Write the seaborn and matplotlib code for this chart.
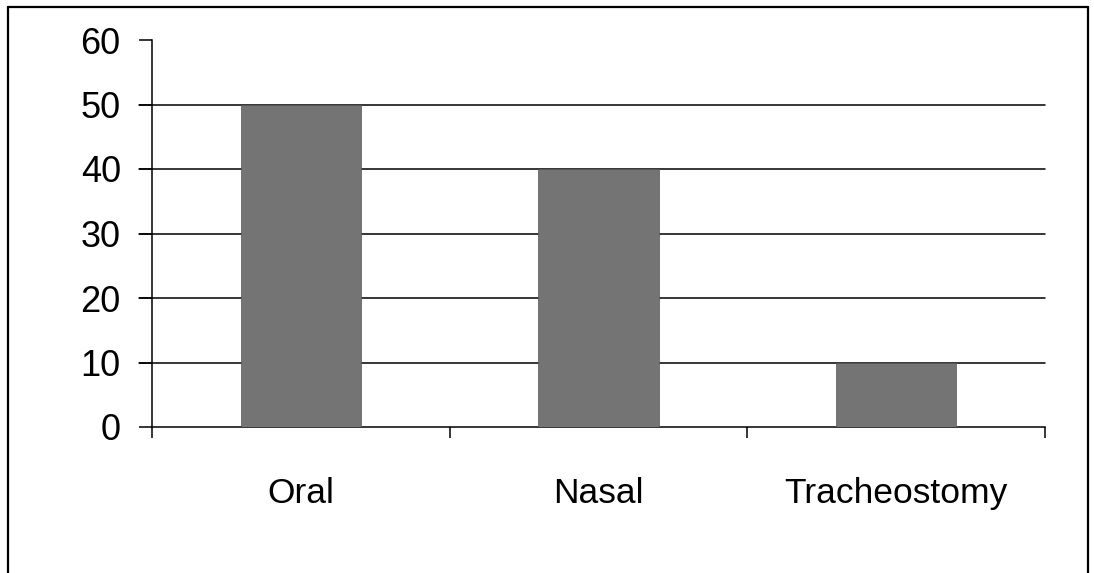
import matplotlib
matplotlib.use("Agg")
import matplotlib.pyplot as plt
import seaborn as sns
import pandas as pd
from matplotlib.lines import Line2D

categories = ["Oral", "Nasal", "Tracheostomy"]
values = [50, 40, 10]
yticks = [0, 10, 20, 30, 40, 50, 60]

sns.set_style("white")
plt.rcParams['font.family'] = ['Liberation Sans', 'DejaVu Sans']
plt.rcParams['text.color'] = 'black'
plt.rcParams['xtick.color'] = 'black'
plt.rcParams['ytick.color'] = 'black'

df = pd.DataFrame({"cat": categories, "val": values})

fig = plt.figure(figsize=(10.94, 5.73), dpi=100)
ax_w = (1045 - 152) / 1094
ax = fig.add_axes([152/1094, 1 - 427/573, ax_w, (427 - 40)/573])

sns.barplot(data=df, x="cat", y="val", color="#747474", saturation=1,
            width=0.405, ax=ax, zorder=3, edgecolor="#555555", linewidth=0.5)

ax.set_xlim(-0.5, 2.5)
ax.set_ylim(0, 60)
ax.set_yticks(yticks)
ax.set_yticklabels([str(t) for t in yticks])
ext = -13 / 893
for t in yticks[1:-1]:
    ax.axhline(t, xmin=ext, xmax=1.0, color="black", lw=1.1, zorder=1, clip_on=False)

ax.set_xlabel("")
ax.set_ylabel("")
for s in ["top", "right"]:
    ax.spines[s].set_visible(False)
for s in ["left", "bottom"]:
    ax.spines[s].set_color("black")
    ax.spines[s].set_linewidth(1.1)

ax.tick_params(axis="y", direction="out", length=9.5, width=1.1, color="black",
               labelsize=26, pad=13, left=True, labelcolor="black")
ax.set_xticks([-0.5, 0.5, 1.5, 2.5], minor=True)
ax.tick_params(axis="x", which="minor", direction="out", length=8, width=1.1,
               color="black", bottom=True)
ax.tick_params(axis="x", which="major", length=0, labelsize=25.5, pad=36,
               labelcolor="black")

# figure border
for xs, ys in [([8/1094, 8/1094], [0, 1 - 7/573]),
               ([8/1094, 1088/1094], [1 - 7/573, 1 - 7/573]),
               ([1088/1094, 1088/1094], [1 - 7/573, 0])]:
    fig.add_artist(Line2D(xs, ys, color="black", lw=1.6, transform=fig.transFigure))

fig.savefig("out.png", dpi=100, facecolor="white")
